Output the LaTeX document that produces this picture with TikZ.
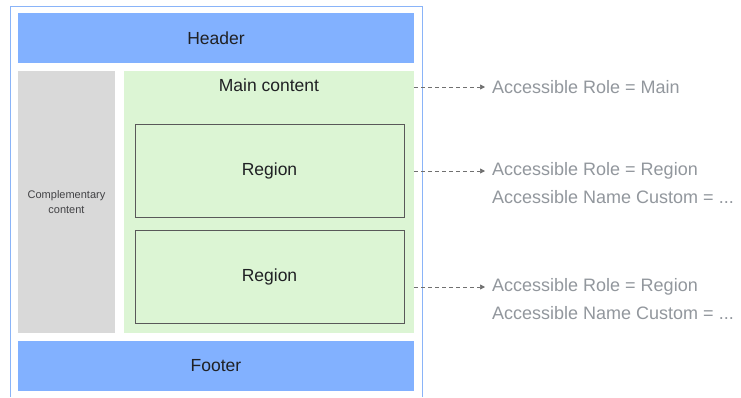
\documentclass[tikz,border=0pt]{standalone}
\usepackage{fontspec}
\setmainfont{Liberation Sans}
\usetikzlibrary{arrows.meta}
\definecolor{bluefill}{HTML}{82B1FF}
\definecolor{frameblue}{HTML}{8AB4F8}
\definecolor{greyfill}{HTML}{D9D9D9}
\definecolor{greenfill}{HTML}{DCF5D4}
\definecolor{txtdark}{HTML}{202124}
\definecolor{lblgrey}{HTML}{92979D}
\definecolor{arrgrey}{HTML}{707070}
\tikzset{
  bar/.style={fill=bluefill, draw=none, minimum width=396pt, minimum height=50pt, inner sep=0pt, text=txtdark, font=\fontsize{17.5}{20}\selectfont},
  regionbox/.style={fill=greenfill, draw=black!65, line width=0.6pt, minimum width=269pt, minimum height=93pt, inner sep=0pt, text=txtdark, font=\fontsize{17.5}{20}\selectfont},
  lbl/.style={anchor=west, inner sep=0pt, text=lblgrey, font=\fontsize{18}{21}\selectfont},
  conn/.style={draw=arrgrey, dashed, dash pattern=on 4pt off 3pt, line width=0.7pt, -{Triangle[length=5pt,width=5pt]}}
}
\begin{document}
\begin{tikzpicture}[x=1pt,y=-1pt]
\useasboundingbox (0,0) rectangle (741,397);
\fill[white] (0,0) rectangle (741,397);
\draw[frameblue, line width=0.8pt] (10,397) -- (10,6) -- (422,6) -- (422,397);
\node[bar] (header) at (216,38) {Header};
\node[bar] (footer) at (216,366) {Footer};
\node[fill=greyfill, minimum width=97pt, minimum height=262pt, inner sep=0pt, align=center, text=txtdark!85, font=\fontsize{11}{15}\selectfont] (comp) at (66.5,202) {Complementary\\content};
\node[fill=greenfill, minimum width=290pt, minimum height=262pt, inner sep=0pt] (main) at (269,202) {};
\node[inner sep=0pt, text=txtdark, font=\fontsize{17.5}{20}\selectfont] (maintitle) at (269,85) {Main content};
\node[regionbox] (r1) at (269.5,170.5) {Region};
\node[regionbox] (r2) at (269.5,276.5) {Region};
\node[lbl] (l1) at (492,87) {Accessible Role = Main};
\node[lbl] (l2) at (492,171) {Accessible Role = Region};
\node[lbl] (l2b) at (492,197) {Accessible Name Custom = ...};
\node[lbl] (l3) at (492,287) {Accessible Role = Region};
\node[lbl] (l3b) at (492,313) {Accessible Name Custom = ...};
\coordinate (m1) at (main.east |- l1.west);
\coordinate (m2) at (main.east |- l2.west);
\coordinate (m3) at (main.east |- l3.west);
\draw[conn] (m1) -- ([xshift=-7pt]l1.west);
\draw[conn] (m2) -- ([xshift=-7pt]l2.west);
\draw[conn] (m3) -- ([xshift=-7pt]l3.west);
\end{tikzpicture}
\end{document}
